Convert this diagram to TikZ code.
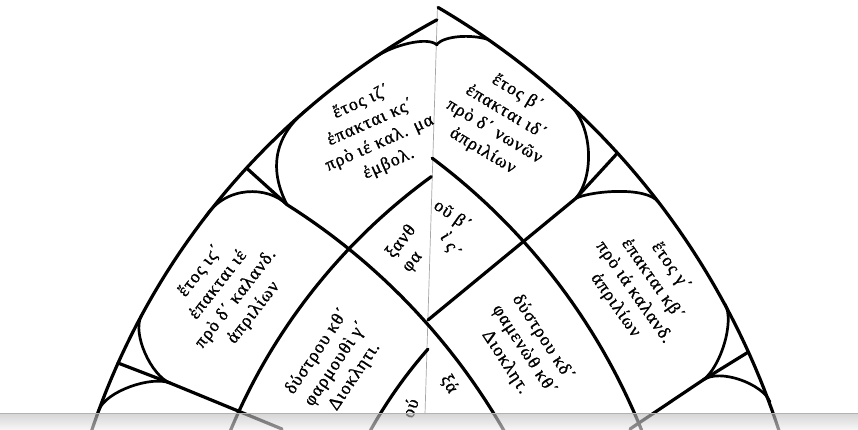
\documentclass[tikz,border=0pt]{standalone}
\usepackage{fontspec}
\newfontfamily\libser[LetterSpace=6,FakeBold=1.2]{Liberation Serif}
\newfontfamily\djvser{DejaVu Serif}
\newcommand\gkfam{\djvser}
\AtBeginDocument{{\libser\iffontchar\font"1F14 \iffontchar\font"1F78 \iffontchar\font"1FF6 \gdef\gkfam{\libser}\fi\fi\fi}}
\newcommand\gk{\gkfam\fontsize{18}{22.5}\selectfont}
\begin{document}
\begin{tikzpicture}[x=1pt,y=-1pt,
  ln/.style={line width=3.2pt,line cap=round,line join=round},
  cv/.style={line width=2.7pt,line cap=round},
  gk/.style={font=\gk,inner sep=0pt,align=center}]
\useasboundingbox (0,0) rectangle (858,429);
\fill[white] (0,0) rectangle (858,429);
% page seam
\draw[gray!70,line width=0.7pt] (437.5,6) -- (425,414);
% named points
\coordinate (S1) at (246.5,168);
\coordinate (P1) at (287,204.6);
\coordinate (S2) at (617.5,153);
\coordinate (P2) at (576,198.2);
\coordinate (S3) at (118,363);
\coordinate (P3) at (170,383);
\coordinate (S4) at (748.4,352);
\coordinate (P4) at (703,380);
\coordinate (Dbot) at (428,320);
% outer arch
\draw[ln] plot[domain=-118.39:-162,samples=90] ({784+730*cos(\x)},{662+730*sin(\x)});
\draw[ln] plot[domain=-59.6:-17.5,samples=90] ({50+767*cos(\x)},{669+767*sin(\x)});
% lattice
\draw[ln] plot[domain=-126:-158,samples=70] ({784+600*cos(\x)},{662+600*sin(\x)});
\draw[ln] plot[domain=-57.74:-29,samples=70] ({-61+652*cos(\x)},{756+652*sin(\x)});
\draw[ln] plot[domain=-53.2:-22,samples=70] ({50+638*cos(\x)},{669+638*sin(\x)});
\draw[ln] plot[domain=-138.7:-152,samples=40] ({784+474*cos(\x)},{662+474*sin(\x)});
\draw[ln] (Dbot) -- (P2) -- (S2);
\draw[ln] (S1) -- (P1);
\draw[ln] (S3) -- (P3) -- (282,429);
\draw[ln] (S4) -- (P4) -- (630,429);
% apex arcs
\draw[cv] (375,57.3) .. controls (393,45) and (428,36) .. (437,45);
\draw[cv] (437,44) .. controls (445,36) and (470,34) .. (488,39.4);
% oval corners
\draw[cv] (P1) .. controls (270,172) and (272,138) .. (306.3,110);
\draw[cv] (P1) .. controls (268,186) and (226,185) .. (205.3,217);
\draw[cv] (P3) .. controls (151.4,375.6) and (132,334) .. (141.2,316);
\draw[cv] (P3) .. controls (151.4,375.6) and (105.9,391.2) .. (98.9,410);
\draw[cv] (569.8,105) .. controls (592,125) and (595,175) .. (P2);
\draw[cv] (P2) .. controls (591,191) and (646,186) .. (658.4,202);
\draw[cv] (P4) .. controls (720,368) and (735,322) .. (725,304);
\draw[cv] (P4) .. controls (720,368) and (763,384) .. (770,402);
% texts
\node[gk,rotate=24] (tA) at (375,133) {ἔτος ιζ΄\\ἐπακται κς΄\\πρὸ ιέ καλ. μα\\ἐμβολ.};
\node[gk,rotate=-31] (tB) at (500,122) {ἔτος β΄\\ἐπακται ιδ΄\\πρὸ δ΄ νωνῶν\\ἀπριλίων};
\node[gk,rotate=52] (tC) at (227,292) {ἔτος ιϛ΄\\ἐπακται ιέ\\πρὸ δ΄ καλανδ.\\ἀπριλίων};
\node[gk,rotate=-55] (tD) at (643,286) {ἔτος γ΄\\ἐπακται κβ΄\\πρὸ ιά καλανδ.\\ἀπριλίων};
\node[gk,rotate=56] (tE) at (336,364) {δύστρου κθ΄\\φαρμουθὶ γ΄\\Διοκλητι.};
\node[gk,rotate=-57] (tF) at (524,350) {δύστρου κδ΄\\φαμενὼθ κθ΄\\Διοκλητ.};
\node[gk,rotate=51,anchor=base west] (tG1) at (393,259) {ξανθ};
\node[gk,rotate=51,anchor=base west] (tG2) at (409,273) {φα};
\node[gk,rotate=-35] (tH1) at (452,216) {οῦ β΄};
\node[gk,rotate=-60] (tH2) at (450,245) {ὶ ς΄};
\node[gk,rotate=70] (tI1) at (410,408) {ού};
\node[gk,rotate=-60] (tI2) at (449,384) {ξά};
% bottom page edge
\shade[top color=gray!55,bottom color=gray!12,opacity=0.6] (0,413) rectangle (858,429);
\draw[gray!60,line width=0.8pt] (0,413) -- (858,413);
\end{tikzpicture}
\end{document}
